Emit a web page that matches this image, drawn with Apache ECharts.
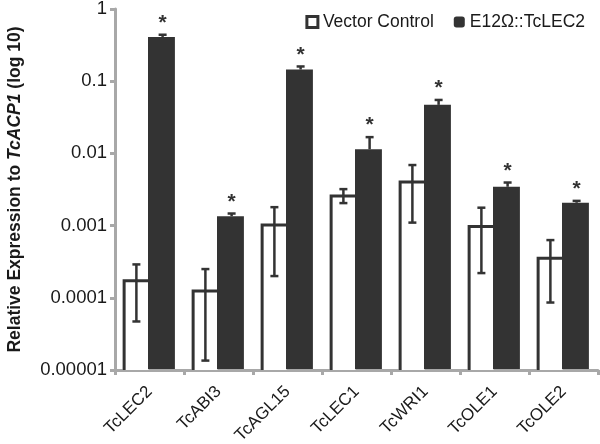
<!DOCTYPE html>
<html><head><meta charset="utf-8">
<script src="https://cdn.jsdelivr.net/npm/echarts@6/dist/echarts.min.js"></script>
<style>html,body{margin:0;padding:0;background:#fff}#c{width:600px;height:444px}</style>
</head><body><div id="c"></div>
<script>
const categories = ['TcLEC2','TcABI3','TcAGL15','TcLEC1','TcWRI1','TcOLE1','TcOLE2'];
const controlValues = [1.8e-4, 1.3e-4, 1.07e-3, 2.7e-3, 4.2e-3, 1.02e-3, 3.7e-4];
const controlErrHigh = [2.9e-4, 2.5e-4, 1.8e-3, 3.2e-3, 6.9e-3, 1.77e-3, 6.3e-4];
const controlErrLow = [4.7e-5, 1.35e-5, 2.0e-4, 2.05e-3, 1.1e-3, 2.2e-4, 8.6e-5];
const lec2Values = [0.41, 1.35e-3, 0.145, 0.0114, 0.047, 3.45e-3, 2.07e-3];
const lec2ErrHigh = [0.44, 1.47e-3, 0.16, 0.0168, 0.055, 3.95e-3, 2.2e-3];
const significance = ['*','*','*','*','*','*','*'];
const yTickLabels = ['0.00001','0.0001','0.001','0.01','0.1','1'];
const seriesNames = ['Vector Control','E12\u03A9::TcLEC2'];

const DARK = '#333333';
const AXIS = '#a8a8a8';
const FONT = '"Liberation Sans", Arial, Helvetica, sans-serif';
const Y_MIN = 1e-5, Y_MAX = 1;

const chart = echarts.init(document.getElementById('c'), null, {renderer:'canvas'});

function bandW(api){ return api.size([1,0])[0]; }

function renderControlBar(params, api){
  const i = api.value(0), v = api.value(1);
  const c = api.coord([i, v]);
  const base = api.coord([i, Y_MIN]);
  const bw = bandW(api) * 0.375;
  const x0 = c[0] - bw - 1, x1 = c[0] - 1;
  return {type:'group', children:[
    {type:'rect', shape:{x:x0, y:c[1], width:x1-x0, height:base[1]-c[1]}, style:{fill:'#fff'}},
    {type:'polyline', shape:{points:[[x0+1.5, base[1]],[x0+1.5, c[1]+1.5],[x1, c[1]+1.5]]},
      style:{stroke:DARK, lineWidth:3, fill:null}}
  ]};
}
function renderLecBar(params, api){
  const i = api.value(0), v = api.value(1);
  const c = api.coord([i, v]);
  const base = api.coord([i, Y_MIN]);
  const bw = bandW(api) * 0.39;
  return {type:'rect', shape:{x:c[0]-1.5, y:c[1], width:bw, height:base[1]-c[1]-1}, style:{fill:DARK}};
}
function renderControlErr(params, api){
  const i = api.value(0);
  const lo = api.coord([i, api.value(1)]);
  const hi = api.coord([i, api.value(2)]);
  const x = lo[0] - bandW(api)*0.19;
  const cap = 4;
  return {type:'group', children:[
    {type:'line', shape:{x1:x, y1:lo[1], x2:x, y2:hi[1]}, style:{stroke:DARK, lineWidth:2.5}},
    {type:'line', shape:{x1:x-cap, y1:lo[1], x2:x+cap, y2:lo[1]}, style:{stroke:DARK, lineWidth:2.5}},
    {type:'line', shape:{x1:x-cap, y1:hi[1], x2:x+cap, y2:hi[1]}, style:{stroke:DARK, lineWidth:2.5}}
  ]};
}
function renderLecErr(params, api){
  const i = api.value(0);
  const lo = api.coord([i, api.value(1)]);
  const hi = api.coord([i, api.value(2)]);
  const x = lo[0] + bandW(api)*0.19;
  const cap = 4;
  return {type:'group', children:[
    {type:'line', shape:{x1:x, y1:lo[1], x2:x, y2:hi[1]}, style:{stroke:DARK, lineWidth:2.5}},
    {type:'line', shape:{x1:x-cap, y1:hi[1], x2:x+cap, y2:hi[1]}, style:{stroke:DARK, lineWidth:2.5}},
    {type:'text', x:x, y:hi[1]-1, style:{text:significance[i], fill:DARK, font:'bold 21px '+FONT, align:'center', verticalAlign:'bottom'}}
  ]};
}

chart.setOption({
  animation:false,
  backgroundColor:'#fff',
  textStyle:{fontFamily:FONT},
  grid:{left:115, right:2, top:9, bottom:74, containLabel:false, outerBoundsMode:'none'},
  legend:{
    top:8, right:10, itemWidth:11, itemHeight:11, itemGap:20,
    textStyle:{fontSize:17.5, color:'#1a1a1a', fontFamily:FONT},
    data:[
      {name:seriesNames[0], icon:'rect', itemStyle:{color:'#fff', borderColor:DARK, borderWidth:3}},
      {name:seriesNames[1], icon:'roundRect', itemStyle:{color:DARK, borderWidth:0}}
    ]
  },
  xAxis:{
    type:'category', data:categories,
    axisLine:{lineStyle:{color:AXIS, width:3}},
    axisTick:{show:true, alignWithLabel:false, length:5, lineStyle:{color:AXIS, width:3}},
    axisLabel:{rotate:45, fontSize:17, color:'#1a1a1a', margin:19, fontFamily:FONT}
  },
  yAxis:{
    type:'log', logBase:10, min:Y_MIN, max:Y_MAX,
    axisLine:{show:true, lineStyle:{color:AXIS, width:3}},
    axisTick:{show:true, length:5, lineStyle:{color:AXIS, width:3}},
    splitLine:{show:false},
    minorTick:{show:false},
    axisLabel:{fontSize:18.5, color:'#1a1a1a', margin:8, fontFamily:FONT,
      formatter:function(v){ const k = Math.round(Math.log10(v)) + 5; return yTickLabels[k] || ''; }},
    name:'{b|Relative Expression to }{i|TcACP1}{b| (log 10)}',
    nameLocation:'middle', nameRotate:90, nameGap:91,
    nameTextStyle:{rich:{
      b:{fontSize:17.5, fontWeight:'bold', color:'#1a1a1a', fontFamily:FONT},
      i:{fontSize:17.5, fontWeight:'bold', fontStyle:'italic', color:'#1a1a1a', fontFamily:FONT}
    }}
  },
  series:[
    {name:seriesNames[0], type:'custom', renderItem:renderControlBar, itemStyle:{color:'#fff', borderColor:DARK},
      encode:{x:0, y:1}, data:controlValues.map((v,i)=>[i,v]), z:2},
    {name:seriesNames[1], type:'custom', renderItem:renderLecBar, itemStyle:{color:DARK},
      encode:{x:0, y:1}, data:lec2Values.map((v,i)=>[i,v]), z:2},
    {name:'ctrlErr', type:'custom', renderItem:renderControlErr,
      encode:{x:0, y:[1,2]}, data:controlValues.map((v,i)=>[i,controlErrLow[i],controlErrHigh[i]]), z:3},
    {name:'lecErr', type:'custom', renderItem:renderLecErr,
      encode:{x:0, y:[1,2]}, data:lec2Values.map((v,i)=>[i,v,lec2ErrHigh[i]]), z:3}
  ]
});
</script></body></html>
